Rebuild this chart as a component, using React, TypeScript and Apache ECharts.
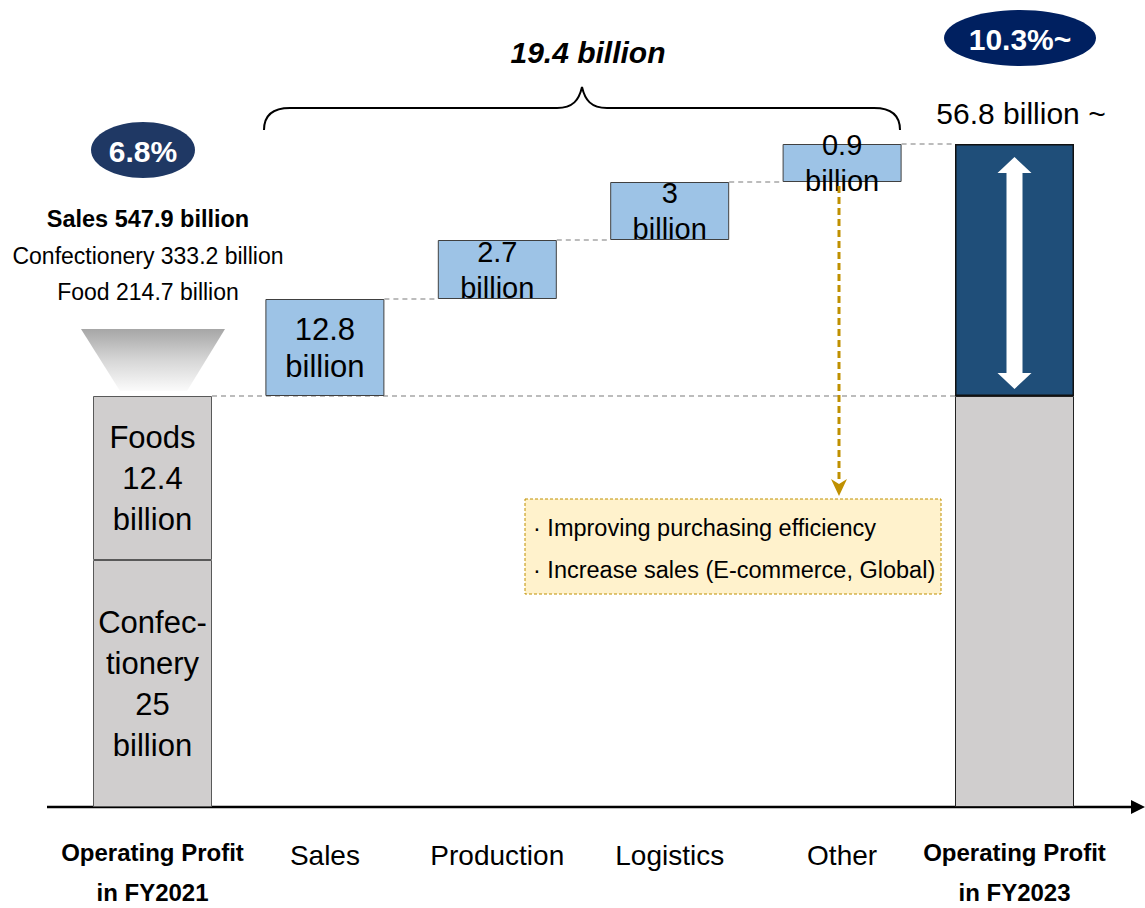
import React, { useEffect, useRef } from "react";
import * as echarts from "echarts";

// ---------- data ----------
const categories = [
  "Operating Profit\nin FY2021",
  "Sales",
  "Production",
  "Logistics",
  "Other",
  "Operating Profit\nin FY2023",
];
const startSegmentLabels = ["Confec-\ntionery", "Foods"];
const startValues = [25, 12.4]; // billion (labelled values)
const stepValues = [12.8, 2.7, 3, 0.9]; // billion (labelled values)
const endValue = 56.8;
const totalIncrease = 19.4;
// drawn heights (the original is schematic, not to scale)
const startHeights = [24.7, 16.4];
const stepHeights = [9.7, 5.9, 5.8, 3.8];
const marginLabels = ["6.8%", "10.3%~"];
const salesLines = ["Sales 547.9 billion", "Confectionery 333.2 billion", "Food 214.7 billion"];
const notes = ["Improving purchasing efficiency", "Increase sales (E-commerce, Global)"];

const FONT = "'Liberation Sans', Arial, Helvetica, sans-serif";
const BAR_W = 119;
const GREY = "#D0CECE";
const BLUE = "#9DC3E6";
const NAVY = "#1F4E79";
const GOLD = "#BF9000";

export default function App() {
  const ref = useRef<HTMLDivElement>(null);

  useEffect(() => {
    if (!ref.current) return;
    echarts.graphic.registerShape(
      "brace",
      echarts.graphic.extendPath(
        "M264,130 C264,116 272,108 290,108 L557,108 C573,108 579,100 582,87 C585,100 591,108 607,108 L874,108 C892,108 900,116 900,130",
        {}
      )
    );
    const chart = echarts.init(ref.current, null, { renderer: "svg" });

    const startTotal = startHeights[0] + startHeights[1];
    const bases: number[] = [];
    let acc = startTotal;
    stepHeights.forEach((h) => {
      bases.push(acc);
      acc += h;
    });
    const endTotal = acc;

    const blueLabel = (v: number, i: number) => ({
      show: true,
      position: "inside",
      formatter: `${v}\nbillion`,
      fontSize: i === 0 ? 31 : 29,
      lineHeight: i === 0 ? 37 : 36,
      color: "#000",
      fontFamily: FONT,
    });

    const connectors = [
      [0, 5, startTotal],
      ...bases.map((b, i) => [i + 1, i + 2, b + stepHeights[i]]),
    ];

    const option: any = {
      animation: false,
      backgroundColor: "#fff",
      grid: { left: 66.3, right: 44.3, top: 144, bottom: 101, outerBoundsMode: "none", containLabel: false },
      xAxis: {
        type: "category",
        data: categories,
        axisLine: { show: false },
        axisTick: { show: false },
        axisLabel: {
          interval: 0,
          margin: 25,
          formatter: (v: string, idx: number) =>
            idx === 0 || idx === categories.length - 1
              ? v.split("\n").map((s) => `{b|${s}}`).join("\n")
              : `{r|${v}}`,
          rich: {
            b: { fontSize: 24, fontWeight: "bold", lineHeight: 40, color: "#000", fontFamily: FONT },
            r: { fontSize: 28, lineHeight: 46, color: "#000", fontFamily: FONT },
          },
        },
      },
      yAxis: { type: "value", min: 0, max: endTotal, show: false },
      series: [
        {
          type: "custom",
          name: "connectors",
          z: 1,
          clip: false,
          silent: true,
          encode: { x: 0, y: 2 },
          data: connectors,
          renderItem: (_p: any, api: any) => {
            const a = api.coord([api.value(0), api.value(2)]);
            const b = api.coord([api.value(1), api.value(2)]);
            return {
              type: "line",
              shape: { x1: a[0] + BAR_W / 2, y1: a[1], x2: b[0] - BAR_W / 2, y2: b[1] },
              style: { stroke: "#A6A6A6", lineWidth: 1.5, lineDash: [5, 4] },
            };
          },
        },
        {
          type: "bar",
          name: "base",
          stack: "w",
          z: 2,
          barWidth: BAR_W,
          silent: true,
          itemStyle: { color: "transparent", borderWidth: 0 },
          data: ["-", ...bases, "-"],
        },
        {
          type: "bar",
          name: "lower",
          stack: "w",
          z: 2,
          barWidth: BAR_W,
          silent: true,
          data: [
            {
              value: startHeights[0],
              itemStyle: { color: GREY, borderColor: "#595959", borderWidth: 1 },
              label: {
                show: true,
                position: "inside",
                formatter: `${startSegmentLabels[0]}\n${startValues[0]}\nbillion`,
                fontSize: 31,
                lineHeight: 41,
                color: "#000",
                fontFamily: FONT,
              },
            },
            "-",
            "-",
            "-",
            "-",
            {
              value: startTotal,
              itemStyle: { color: GREY, borderColor: "#222", borderWidth: 1 },
            },
          ],
        },
        {
          type: "bar",
          name: "upper",
          stack: "w",
          z: 2,
          barWidth: BAR_W,
          silent: true,
          data: [
            {
              value: startHeights[1],
              itemStyle: { color: GREY, borderColor: "#595959", borderWidth: 1 },
              label: {
                show: true,
                position: "inside",
                formatter: `${startSegmentLabels[1]}\n${startValues[1]}\nbillion`,
                fontSize: 31,
                lineHeight: 41,
                color: "#000",
                fontFamily: FONT,
              },
            },
            ...stepHeights.map((h, i) => ({
              value: h,
              itemStyle: { color: BLUE, borderColor: "#404040", borderWidth: 1 },
              label: blueLabel(stepValues[i], i),
            })),
            {
              value: endTotal - startTotal,
              itemStyle: { color: NAVY, borderColor: "#111", borderWidth: 1.5 },
            },
          ],
        },
      ],
      graphic: [
        // x axis line with arrow
        { type: "line", shape: { x1: 47, y1: 807, x2: 1133, y2: 807 }, style: { stroke: "#000", lineWidth: 2.5 } },
        { type: "polygon", shape: { points: [[1131, 800], [1145, 807], [1131, 814]] }, style: { fill: "#000" } },
        // brace + total
        { type: "brace", x: 0, y: 0, style: { fill: "none", stroke: "#000", lineWidth: 2 } },
        {
          type: "text",
          x: 588,
          y: 52,
          style: {
            text: `${totalIncrease} billion`,
            fontSize: 30,
            fontWeight: "bold",
            fontStyle: "italic",
            fontFamily: FONT,
            fill: "#000",
            align: "center",
            verticalAlign: "middle",
          },
        },
        // margin badges
        { type: "ellipse", shape: { cx: 143, cy: 150, rx: 52, ry: 28 }, style: { fill: "#1F3864" } },
        {
          type: "text",
          x: 143,
          y: 151,
          style: { text: marginLabels[0], fontSize: 30, fontWeight: "bold", fontFamily: FONT, fill: "#fff", align: "center", verticalAlign: "middle" },
        },
        { type: "ellipse", shape: { cx: 1020, cy: 38, rx: 76, ry: 28 }, style: { fill: "#002060" } },
        {
          type: "text",
          x: 1020,
          y: 39,
          style: { text: marginLabels[1], fontSize: 30, fontWeight: "bold", fontFamily: FONT, fill: "#fff", align: "center", verticalAlign: "middle" },
        },
        {
          type: "text",
          x: 1021,
          y: 113,
          style: { text: `${endValue} billion ~`, fontSize: 30, fontFamily: FONT, fill: "#000", align: "center", verticalAlign: "middle" },
        },
        // sales lines
        ...salesLines.map((t, i) => ({
          type: "text",
          x: 148,
          y: 219 + i * 36.5,
          style: {
            text: t,
            fontSize: i === 0 ? 23.5 : 23,
            fontWeight: i === 0 ? "bold" : "normal",
            fontFamily: FONT,
            fill: "#000",
            align: "center",
            verticalAlign: "middle",
          },
        })),
        // gradient funnel
        {
          type: "polygon",
          shape: { points: [[81, 329], [225, 329], [187, 391], [120, 391]] },
          style: {
            fill: {
              type: "linear",
              x: 0,
              y: 0,
              x2: 0,
              y2: 1,
              colorStops: [
                { offset: 0, color: "#A6A6A6" },
                { offset: 0.5, color: "#D6D6D6" },
                { offset: 1, color: "#FBFBFB" },
              ],
            },
          },
        },
        // white double arrow in end bar
        {
          type: "polygon",
          z: 10,
          shape: {
            points: [
              [1014.5, 157], [1031.5, 173], [1022.5, 173], [1022.5, 373], [1031.5, 373],
              [1014.5, 389], [997.5, 373], [1006.5, 373], [1006.5, 173], [997.5, 173],
            ],
          },
          style: { fill: "#fff" },
        },
        // gold dashed arrow
        { type: "line", z: 10, shape: { x1: 839, y1: 186, x2: 839, y2: 482 }, style: { stroke: GOLD, lineWidth: 3, lineDash: [7, 4] } },
        { type: "polygon", z: 10, shape: { points: [[831, 479], [839, 484], [847, 479], [839, 496]] }, style: { fill: GOLD } },
        // note box
        {
          type: "rect",
          z: 10,
          shape: { x: 525, y: 499, width: 416, height: 95 },
          style: { fill: "#FFF2CC", stroke: GOLD, lineWidth: 1, lineDash: [3, 2] },
        },
        ...notes.map((t, i) => ({
          type: "text",
          z: 11,
          x: 533,
          y: 528 + i * 42,
          style: { text: `· ${t}`, fontSize: 23.5, fontFamily: FONT, fill: "#000", align: "left", verticalAlign: "middle" },
        })),
      ],
    };

    chart.setOption(option);
    return () => chart.dispose();
  }, []);

  return (
    <div
      ref={ref}
      style={{ position: "fixed", left: 0, top: 0, width: 1145, height: 908, background: "#fff" }}
    />
  );
}
